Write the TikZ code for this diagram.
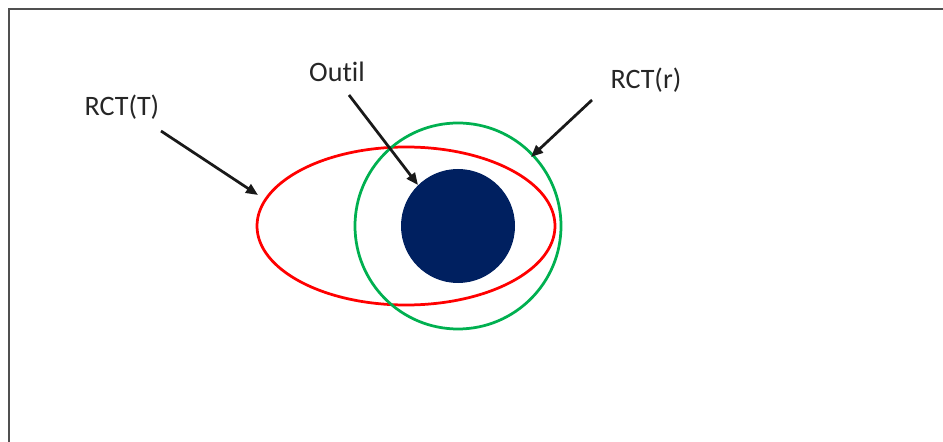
\documentclass[tikz,border=0pt]{standalone}
\usepackage{fontspec}
\setmainfont{Carlito}[RawFeature={-liga;-clig}]
\usetikzlibrary{arrows.meta}
\definecolor{tcolor}{HTML}{FF0000}
\definecolor{rcolor}{HTML}{00B050}
\definecolor{outilnavy}{HTML}{002060}
\definecolor{framegray}{HTML}{505050}

\begin{document}
\begin{tikzpicture}[x=0.02cm, y=-0.02cm,
  lbl/.style={font=\fontsize{16}{19}\selectfont, text=black!85, inner sep=0pt},
  pointer/.style={-{Triangle[length=0.24cm, width=0.2cm]}, line width=0.055cm, black!90},
  zone/.style={line width=0.055cm}]

% ---- Canvas and frame ----
\useasboundingbox (0,0) rectangle (943,442);
\draw[framegray, line width=1.3pt] (9,442) -- (9,9) -- (943,9);

% ---- Zones ----
% RCT(T): wide red ellipse
\draw[zone, tcolor] (406,226) ellipse [x radius=149, y radius=79];
% RCT(r): green circle
\draw[zone, rcolor] (458,226) circle [radius=103];
% Outil: filled navy disc
\fill[outilnavy] (458,226) circle [radius=57];

% ---- Labels ----
\node[lbl] (rctT) at (122,107) {RCT(T)};
\node[lbl] (outil) at (337,72) {Out\kern0pt{}il};
\node[lbl] (rctr) at (646,80) {RCT(r)};

% ---- Pointers ----
\coordinate (rctT-tail) at (161,131);
\coordinate (rctT-head) at (258,195);
\coordinate (outil-tail) at (349,95);
\coordinate (outil-head) at (418,185);
\coordinate (rctr-tail) at (592,100);
\coordinate (rctr-head) at (531,157);
\draw[pointer] (rctT-tail) -- (rctT-head);
\draw[pointer] (outil-tail) -- (outil-head);
\draw[pointer] (rctr-tail) -- (rctr-head);

\end{tikzpicture}
\end{document}
